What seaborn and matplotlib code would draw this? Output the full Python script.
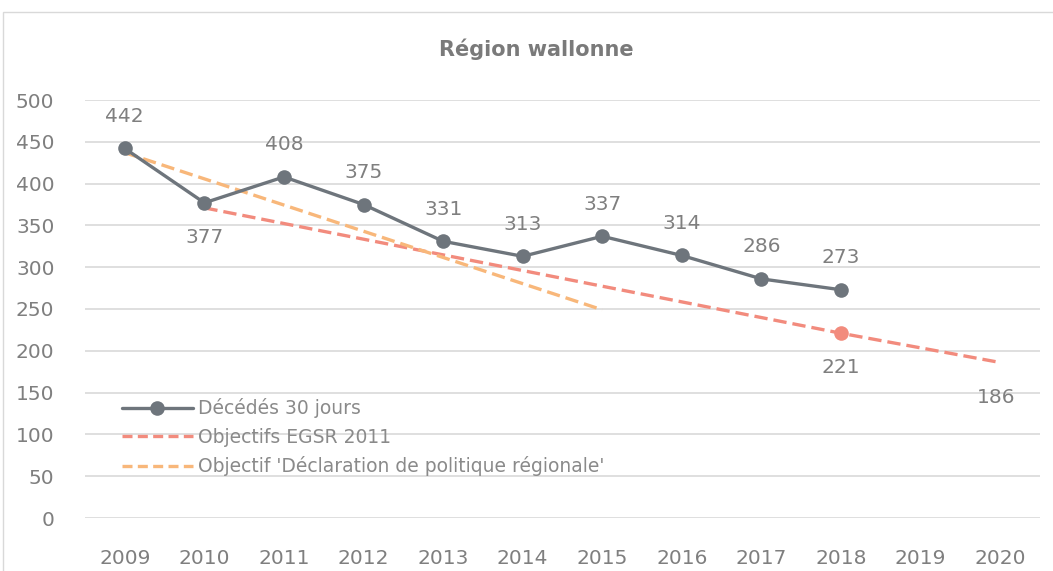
import matplotlib
matplotlib.use("Agg")
import matplotlib.pyplot as plt
import pandas as pd
import seaborn as sns
from matplotlib.patches import Rectangle

# data
years = [2009, 2010, 2011, 2012, 2013, 2014, 2015, 2016, 2017, 2018]
deaths = [442, 377, 408, 375, 331, 313, 337, 314, 286, 273]
egsr_years = [2010, 2018, 2020]
egsr_vals = [371, 221, 186]
dpr_years = [2009, 2015]
dpr_vals = [437, 249]
xticks = list(range(2009, 2021))

GREY = "#6e757c"
SALMON = "#f28b7d"
ORANGE = "#f8b77a"
TXT = "#7f7f7f"

sns.set_style("white")
plt.rcParams["font.family"] = ["DejaVu Sans"]

fig = plt.figure(figsize=(10.53, 5.71), dpi=100)
ax = fig.add_axes([85 / 1053, 53 / 571, 955 / 1053, 418 / 571])

df = pd.DataFrame({"year": years, "val": deaths})
egsr = pd.DataFrame({"year": egsr_years, "val": egsr_vals})
dpr = pd.DataFrame({"year": dpr_years, "val": dpr_vals})

sns.lineplot(data=df, x="year", y="val", ax=ax, color=GREY, lw=2.4, marker="o",
             markersize=10.5, markeredgewidth=0, label="Décédés 30 jours", zorder=4)
sns.lineplot(data=egsr, x="year", y="val", ax=ax, color=SALMON, lw=2.4,
             label="Objectifs EGSR 2011", zorder=3)
sns.lineplot(data=dpr, x="year", y="val", ax=ax, color=ORANGE, lw=2.4,
             label="Objectif 'Déclaration de politique régionale'", zorder=3)
ax.lines[1].set_dashes((4, 1.8))
ax.lines[2].set_dashes((4, 1.8))

# highlighted 2018 target point
ax.plot([egsr_years[1]], [egsr_vals[1]], "o", color=SALMON, ms=10.5, mew=0, zorder=5)

# data labels
below = {2010}
for x, y in zip(years, deaths):
    off = -25 if x in below else 23
    ax.annotate(str(y), (x, y), xytext=(0, off), textcoords="offset points",
                ha="center", va="center", fontsize=14.5, color=TXT)
ax.annotate(str(egsr_vals[1]), (egsr_years[1], egsr_vals[1]), xytext=(0, -25),
            textcoords="offset points", ha="center", va="center", fontsize=14.5, color=TXT)
ax.annotate(str(egsr_vals[2]), (egsr_years[2], egsr_vals[2]), xytext=(-3, -25),
            textcoords="offset points", ha="center", va="center", fontsize=14.5, color=TXT)

ax.set_xlim(2008.5, 2020.5)
ax.set_ylim(0, 500)
ax.set_xticks(xticks)
ax.set_xticklabels([str(t) for t in xticks])
ax.set_yticks(range(0, 501, 50))
ax.tick_params(axis="both", length=0, labelsize=14.5, labelcolor=TXT)
ax.tick_params(axis="x", pad=22)
ax.tick_params(axis="y", pad=22)
ax.grid(axis="y", color="#d9d9d9", lw=1.2)
ax.set_axisbelow(True)
for s in ax.spines.values():
    s.set_visible(False)
ax.set_xlabel("")
ax.set_ylabel("")

leg = ax.legend(loc="lower left", bbox_to_anchor=(0.039, 0.1), frameon=False,
                fontsize=13.5, handlelength=3.75, handletextpad=0.3, labelspacing=0.5,
                borderaxespad=0, borderpad=0)
for t in leg.get_texts():
    t.set_color("#8a8a8a")
for h in leg.get_lines()[1:]:
    h.set_dashes((3, 1.6))

fig.text(536 / 1053, 1 - 49 / 571, "Région wallonne", ha="center", va="center",
         fontsize=15, fontweight="bold", color="#7a7a7a")

fig.add_artist(Rectangle((3 / 1053, -0.02), 1.05, 1 - 12 / 571 + 0.02,
                         transform=fig.transFigure, fill=False, ec="#d9d9d9", lw=1))

fig.savefig("out.png", dpi=100)
